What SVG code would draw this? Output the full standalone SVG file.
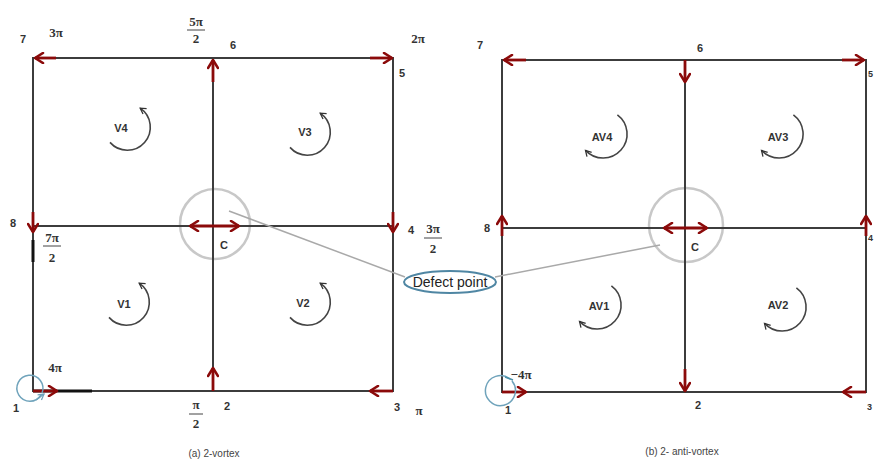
<svg xmlns="http://www.w3.org/2000/svg" width="874" height="465" viewBox="0 0 874 465">
<defs>
<marker id="ah" viewBox="0 0 12 12" refX="10" refY="6" markerWidth="12" markerHeight="12" markerUnits="userSpaceOnUse" orient="auto-start-reverse">
<path d="M2,1 L10,6 L2,11" fill="none" stroke="#8b0a0a" stroke-width="2.6" stroke-linecap="round" stroke-linejoin="round"/>
</marker>
<marker id="sah" viewBox="0 0 10 10" refX="8" refY="5" markerWidth="8" markerHeight="8" markerUnits="userSpaceOnUse" orient="auto">
<path d="M1,1 L8,5 L1,9" fill="none" stroke="#333" stroke-width="1.6"/>
</marker>
<marker id="bah" viewBox="0 0 10 10" refX="8" refY="5" markerWidth="8" markerHeight="8" markerUnits="userSpaceOnUse" orient="auto">
<path d="M1,1 L8,5 L1,9" fill="none" stroke="#6fa3bb" stroke-width="1.6"/>
</marker>
</defs>
<style>
.grid{stroke:#3c3c3c;stroke-width:2;fill:none}
.red{stroke:#8b0a0a;stroke-width:2.8;fill:none;marker-end:url(#ah)}
.dbl{stroke:#8b0a0a;stroke-width:2.8;fill:none;marker-start:url(#ah);marker-end:url(#ah)}
.rot{stroke:#444;stroke-width:1.6;fill:none;marker-end:url(#sah)}
.lbl{font-family:"Liberation Sans",Arial,sans-serif;font-size:11px;font-weight:bold;fill:#333}
.pi{font-family:"Liberation Serif","Times New Roman",serif;font-size:13px;font-weight:bold;fill:#333}
.cap{font-family:"Liberation Sans",Arial,sans-serif;font-size:10px;fill:#444}
.ring{stroke:#c8c8c8;stroke-width:2.5;fill:none}
.lead{stroke:#a9a9a9;stroke-width:1.5;fill:none}
.frac{stroke:#444;stroke-width:1}
</style>
<rect width="874" height="465" fill="#ffffff"/>

<g id="rings">
<circle class="ring" cx="215" cy="224" r="35"/>
<circle class="ring" cx="686" cy="225" r="37"/>
</g>

<g id="grid-a">
<rect class="grid" x="33" y="58" width="360" height="333"/>
<line class="grid" x1="213" y1="58" x2="213" y2="391"/>
<line class="grid" x1="33" y1="226" x2="393" y2="226"/>
<line x1="33" y1="391" x2="92" y2="391" stroke="#111" stroke-width="3"/>
<line x1="33" y1="240" x2="33" y2="262" stroke="#111" stroke-width="3"/>
</g>

<g id="grid-b">
<rect class="grid" x="502" y="60" width="364" height="332"/>
<line class="grid" x1="685" y1="60" x2="685" y2="392"/>
<line class="grid" x1="502" y1="228" x2="866" y2="228"/>
</g>

<g id="connectors">
<line class="red" x1="56" y1="58" x2="35" y2="58"/>
<line class="red" x1="370" y1="58" x2="392" y2="58"/>
<line class="red" x1="213" y1="82" x2="213" y2="60"/>
<line class="red" x1="33" y1="212" x2="33" y2="232"/>
<line class="red" x1="393" y1="212" x2="393" y2="232"/>
<line class="dbl" x1="190" y1="226" x2="239" y2="226"/>
<line class="red" x1="33" y1="391" x2="57" y2="391"/>
<line class="red" x1="213" y1="391" x2="213" y2="368"/>
<line class="red" x1="393" y1="391" x2="370" y2="391"/>
<line class="red" x1="526" y1="60" x2="504" y2="60"/>
<line class="red" x1="685" y1="60" x2="685" y2="82"/>
<line class="red" x1="842" y1="60" x2="864" y2="60"/>
<line class="red" x1="502" y1="236" x2="502" y2="216"/>
<line class="red" x1="866" y1="236" x2="866" y2="216"/>
<line class="dbl" x1="664" y1="228" x2="707" y2="228"/>
<line class="red" x1="502" y1="392" x2="526" y2="392"/>
<line class="red" x1="685" y1="369" x2="685" y2="391"/>
<line class="red" x1="866" y1="392" x2="843" y2="392"/>
<line class="lead" x1="229" y1="211" x2="405" y2="277"/>
<line class="lead" x1="495" y1="277" x2="660" y2="245"/>
<path d="M 41 395 A 13 13 0 1 1 42 393" fill="none" stroke="#6fa3bb" stroke-width="1.5"/>
<path d="M 36 400 L 44 394" fill="none" stroke="#6fa3bb" stroke-width="1.5" marker-end="url(#bah)"/>
<path d="M 510 379 A 15 15 0 1 0 512 381" fill="none" stroke="#6fa3bb" stroke-width="1.5"/>
<path d="M 505 377 L 513 380" fill="none" stroke="#4a90a8" stroke-width="1.5"/>
</g>

<g id="rotations">
<path class="rot" transform="translate(127,127)" d="M -17 15.4 A 23 23 0 1 0 13.2 -18.8"/>
<path class="rot" transform="translate(307,132)" d="M -17 15.4 A 23 23 0 1 0 13.2 -18.8"/>
<path class="rot" transform="translate(126,302)" d="M -17 15.4 A 23 23 0 1 0 13.2 -18.8"/>
<path class="rot" transform="translate(307,302)" d="M -17 15.4 A 23 23 0 1 0 13.2 -18.8"/>
<path class="rot" transform="translate(603,134)" d="M 14.4 -19.2 A 24 24 0 1 1 -17.5 16.4"/>
<path class="rot" transform="translate(779,134)" d="M 14.4 -19.2 A 24 24 0 1 1 -17.5 16.4"/>
<path class="rot" transform="translate(597,305)" d="M 14.4 -19.2 A 24 24 0 1 1 -17.5 16.4"/>
<path class="rot" transform="translate(782,307)" d="M 14.4 -19.2 A 24 24 0 1 1 -17.5 16.4"/>
</g>

<g id="labels-a">
<text class="lbl" x="23" y="43" text-anchor="middle">7</text>
<text class="pi" x="56" y="37" text-anchor="middle">3π</text>
<text class="pi" x="196" y="26" text-anchor="middle">5π</text>
<line class="frac" x1="187" y1="30" x2="205" y2="30"/>
<text class="pi" x="196" y="43" text-anchor="middle">2</text>
<text class="lbl" x="233" y="49" text-anchor="middle">6</text>
<text class="pi" x="418" y="43" text-anchor="middle">2π</text>
<text class="lbl" x="402" y="77" text-anchor="middle">5</text>
<text class="lbl" x="13" y="227" text-anchor="middle">8</text>
<text class="pi" x="52" y="242" text-anchor="middle">7π</text>
<line class="frac" x1="43" y1="246" x2="61" y2="246"/>
<text class="pi" x="52" y="262" text-anchor="middle">2</text>
<text class="lbl" x="411" y="234" text-anchor="middle">4</text>
<text class="pi" x="433" y="233" text-anchor="middle">3π</text>
<line class="frac" x1="424" y1="238" x2="442" y2="238"/>
<text class="pi" x="433" y="253" text-anchor="middle">2</text>
<text class="lbl" x="224" y="249" text-anchor="middle">C</text>
<text class="lbl" x="121" y="132" text-anchor="middle">V4</text>
<text class="lbl" x="305" y="136" text-anchor="middle">V3</text>
<text class="lbl" x="124" y="308" text-anchor="middle">V1</text>
<text class="lbl" x="303" y="307" text-anchor="middle">V2</text>
<text class="pi" x="55" y="372" text-anchor="middle">4π</text>
<text class="lbl" x="16" y="412" text-anchor="middle">1</text>
<text class="pi" x="196" y="409" text-anchor="middle">π</text>
<line class="frac" x1="189" y1="414" x2="203" y2="414"/>
<text class="pi" x="196" y="428" text-anchor="middle">2</text>
<text class="lbl" x="227" y="410" text-anchor="middle">2</text>
<text class="lbl" x="397" y="411" text-anchor="middle">3</text>
<text class="pi" x="419" y="415" text-anchor="middle">π</text>
<text class="cap" x="214" y="457" text-anchor="middle">(a) 2-vortex</text>
</g>

<g id="labels-b">
<text class="lbl" x="480" y="49" text-anchor="middle">7</text>
<text class="lbl" x="700" y="52" text-anchor="middle">6</text>
<text class="lbl" x="868" y="77" style="font-size:9px">5</text>
<text class="lbl" x="487" y="232" text-anchor="middle">8</text>
<text class="lbl" x="868" y="241" style="font-size:9px">4</text>
<text class="lbl" x="695" y="251" text-anchor="middle">C</text>
<text class="lbl" x="602" y="141" text-anchor="middle">AV4</text>
<text class="lbl" x="778" y="141" text-anchor="middle">AV3</text>
<text class="lbl" x="599" y="310" text-anchor="middle">AV1</text>
<text class="lbl" x="778" y="309" text-anchor="middle">AV2</text>
<text class="pi" x="521" y="379" text-anchor="middle">−4π</text>
<text class="lbl" x="508" y="414" text-anchor="middle">1</text>
<text class="lbl" x="698" y="409" text-anchor="middle">2</text>
<text class="lbl" x="867" y="410" style="font-size:9px">3</text>
<text class="cap" x="682" y="455" text-anchor="middle">(b) 2- anti-vortex</text>
</g>

<g id="defect-point">
<ellipse cx="450" cy="282" rx="46" ry="11" fill="#ffffff" stroke="#4f86a3" stroke-width="2"/>
<text x="450" y="287" text-anchor="middle" font-family="'Liberation Sans',Arial,sans-serif" font-size="14" fill="#222">Defect point</text>
</g>
</svg>
